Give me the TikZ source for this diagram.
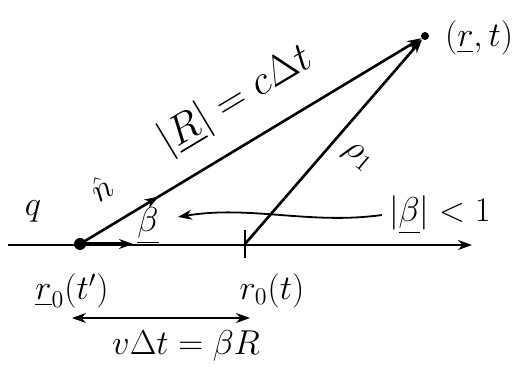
\documentclass[tikz,border=0pt]{standalone}
\usepackage{tikz}
\usetikzlibrary{arrows.meta,decorations.markings}
\usepackage{amsmath,amssymb}

\begin{document}
\begin{tikzpicture}[
  x=0.5pt, y=-0.5pt,
  font=\LARGE,
  >={Stealth[length=7pt,width=5pt]},
  vecline/.style={line width=1.3pt},
  axisline/.style={line width=0.9pt},
  dotnode/.style={circle, fill=black, inner sep=0pt},
  midarrow/.style={postaction={decorate, decoration={markings,
                   mark=at position #1 with {\arrow{>}}}}},
]
\useasboundingbox (0,0) rectangle (516,374);

% ===== points =====
\node (q) [dotnode, minimum size=6pt] at (80,244) {};
\node (field) [dotnode, minimum size=4pt] at (425,36) {};
\coordinate (tick) at (245,244);
\coordinate (axL) at (8,245);
\coordinate (axR) at (472,245);
\coordinate (betaEnd) at (133,244);

% ===== axis with the present position tick =====
\draw[axisline,->] (axL) -- (axR);
\draw[axisline] ([yshift=-7]tick) -- ([yshift=7]tick);

% ===== vectors =====
\draw[vecline,->,midarrow=0.23] (q.center) -- (field);
\draw[vecline,->] (tick) -- (field);
\draw[line width=1.8pt,->] (q.center) -- (betaEnd);

% ===== labels =====
\node (qLbl) at (33,211) {$q$};
\node (nLbl) [rotate=31, inner sep=1pt] at (101,188) {$\hat{n}$};
\node (betaLbl) at (148,226) {$\underline{\beta}$};
\node (RLbl) [rotate=31, font=\huge, inner sep=1pt] at (236,100) {$|\underline{R}|=c\Delta t$};
\node (rhoLbl) [rotate=-40, inner sep=1pt] at (358,157) {$\rho_1$};
\node (fieldLbl) [anchor=west] at (438,38) {$(\underline{r},t)$};
\node (condLbl) [anchor=west] at (382,215) {$|\underline{\beta}|<1$};
\node (retLbl) at (72,291) {$\underline{r}_0(t')$};
\node (presLbl) at (272,291) {$r_0(t)$};
\node (distLbl) at (186,346) {$v\Delta t=\beta R$};

% pointer from the condition to beta
\coordinate (betaTip) at (178,217);
\draw[axisline,->] (condLbl.west) .. controls (310,225) and (250,205) .. (betaTip);

% displacement between retarded and present positions
\coordinate (dispL) at (72,318);
\coordinate (dispR) at (250,318);
\draw[axisline,<->] (dispL) -- (dispR);
\end{tikzpicture}
\end{document}
